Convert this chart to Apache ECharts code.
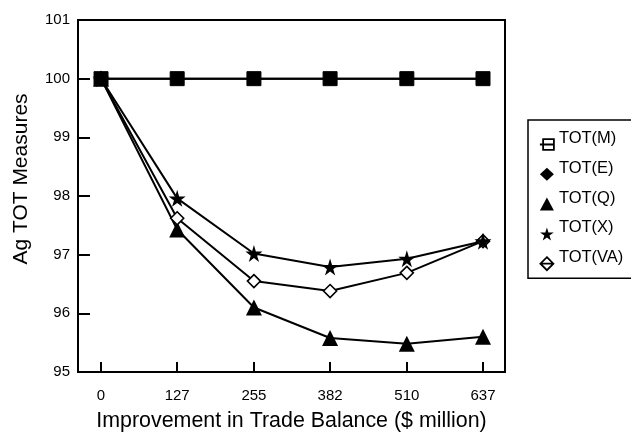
<!DOCTYPE html>
<html><head><meta charset="utf-8">
<script src="https://cdn.jsdelivr.net/npm/echarts@6/dist/echarts.min.js"></script>
<style>html,body{margin:0;padding:0;background:#fff}#c{width:631px;height:437px}</style>
</head><body><div id="c"></div>
<script>
var xValues = [0, 127, 255, 382, 510, 637];
var totM  = [100, 100, 100, 100, 100, 100];
var totE  = [100, 100, 100, 100, 100, 100];
var totQ  = [100, 97.43, 96.10, 95.58, 95.48, 95.60];
var totX  = [100, 97.96, 97.02, 96.79, 96.93, 97.23];
var totVA = [100, 97.62, 96.55, 96.38, 96.69, 97.23];
var yTicks = [95, 96, 97, 98, 99, 100, 101];

function pts(arr){ return xValues.map(function(x,i){ return [x, arr[i]]; }); }
var starPath = 'path://M50,0 L61,35 L98,35 L68,57 L79,91 L50,70 L21,91 L32,57 L2,35 L39,35 Z';
var font = 'Liberation Sans, Arial, sans-serif';

var chart = echarts.init(document.getElementById('c'), null, {renderer:'canvas'});
chart.setOption({
  animation:false,
  backgroundColor:'#fff',
  grid:{left:78, right:126, top:20, bottom:62, show:true, borderColor:'#000', borderWidth:2, backgroundColor:'transparent'},
  xAxis:{
    type:'value', min:-38.4, max:673.7,
    name:'Improvement in Trade Balance ($ million)', nameLocation:'middle', nameGap:39,
    nameTextStyle:{fontFamily:font, fontSize:21.4, color:'#000'},
    axisLine:{show:true, onZero:false, lineStyle:{color:'#000', width:2}},
    axisTick:{show:true, inside:true, length:10, lineStyle:{color:'#000', width:2}, customValues:xValues},
    axisLabel:{fontFamily:font, fontSize:15, color:'#000', margin:16, customValues:xValues},
    splitLine:{show:false}
  },
  yAxis:{
    type:'value', min:95, max:101, interval:1,
    name:'Ag TOT Measures', nameLocation:'middle', nameGap:46,
    nameTextStyle:{fontFamily:font, fontSize:21, color:'#000', padding:[0,0,0,34]},
    axisLine:{show:true, onZero:false, lineStyle:{color:'#000', width:2}},
    axisTick:{show:true, inside:true, length:12, lineStyle:{color:'#000', width:2}},
    axisLabel:{fontFamily:font, fontSize:15, color:'#000', margin:8, customValues:yTicks},
    splitLine:{show:false}
  },
  legend:{
    orient:'vertical', left:528, top:120, width:110,
    borderColor:'#000', borderWidth:1.5, padding:[10,40,0,11],
    itemWidth:14, itemHeight:13, itemGap:0.8,
    formatter:function(n){ return n + '\n'; },
    textStyle:{fontFamily:font, fontSize:16.5, color:'#000', lineHeight:12},
    data:[
      {name:'TOT(M)', icon:'path://M2,1 L12,1 L12,11 L2,11 Z M-1,6 L12,6', itemStyle:{color:'#fff', borderColor:'#000', borderWidth:1.8}},
      {name:'TOT(E)', icon:'diamond', itemStyle:{color:'#000'}},
      {name:'TOT(Q)', icon:'triangle', itemStyle:{color:'#000'}},
      {name:'TOT(X)', icon:starPath, itemStyle:{color:'#000'}},
      {name:'TOT(VA)', icon:'path://M6,0 L12,6 L6,12 L0,6 Z M0,6 L12,6', itemStyle:{color:'#fff', borderColor:'#000', borderWidth:1.8}}
    ]
  },
  series:[
    {name:'TOT(E)', type:'line', data:pts(totE), symbol:'diamond', symbolSize:12, z:2,
     lineStyle:{color:'#000', width:2}, itemStyle:{color:'#000'}},
    {name:'TOT(M)', type:'line', data:pts(totM), symbol:'rect', symbolSize:14, z:3,
     lineStyle:{color:'#000', width:2}, itemStyle:{color:'#000', borderColor:'#000'}},
    {name:'TOT(Q)', type:'line', data:pts(totQ), symbol:'triangle', symbolSize:16, z:2,
     lineStyle:{color:'#000', width:2}, itemStyle:{color:'#000'}},
    {name:'TOT(VA)', type:'line', data:pts(totVA), symbol:'diamond', symbolSize:13, z:2,
     lineStyle:{color:'#000', width:2}, itemStyle:{color:'#fff', borderColor:'#000', borderWidth:1.6}},
    {name:'TOT(X)', type:'line', data:pts(totX), symbol:starPath, symbolSize:17, z:2,
     lineStyle:{color:'#000', width:2}, itemStyle:{color:'#000'}}
  ]
});
</script></body></html>
